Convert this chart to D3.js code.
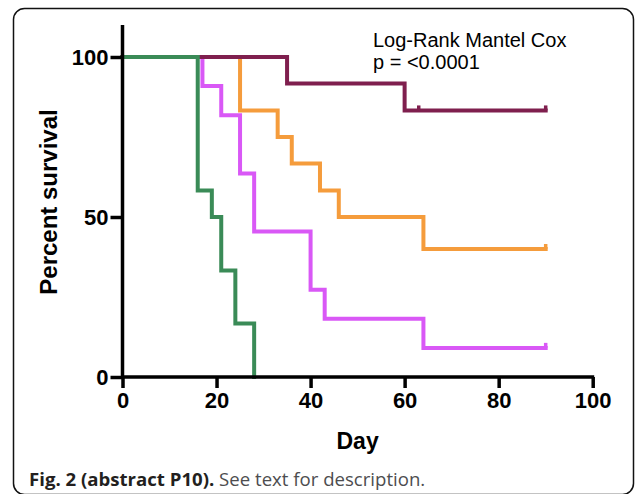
<!DOCTYPE html>
<html>
<head>
<meta charset="utf-8">
<script src="https://cdn.jsdelivr.net/npm/d3@7"></script>
<style>
  html, body { margin: 0; padding: 0; background: #fff; }
  svg { display: block; }
</style>
</head>
<body>
<svg id="chart" width="637" height="494"></svg>
<script>
// Kaplan-Meier survival steps (day, percent surviving) for each group
const greenDays     = [0, 16, 19, 21, 24, 28];
const greenSurv     = [100, 58.3, 50, 33.3, 16.7, 0];
const greenCensor   = [];

const magentaDays   = [0, 17, 21, 25, 28, 40, 43, 64, 90];
const magentaSurv   = [100, 90.9, 81.8, 63.6, 45.5, 27.3, 18.2, 9.1, 9.1];
const magentaCensor = [90];

const orangeDays    = [0, 25, 33, 36, 42, 46, 64, 90];
const orangeSurv    = [100, 83.3, 75, 66.7, 58.3, 50, 40, 40];
const orangeCensor  = [90];

const maroonDays    = [0, 35, 60, 90];
const maroonSurv    = [100, 91.7, 83.3, 83.3];
const maroonCensor  = [63, 90];

const xTicks = [0, 20, 40, 60, 80, 100];
const yTicks = [0, 50, 100];

const groups = [
  { days: magentaDays, surv: magentaSurv, censor: magentaCensor, color: "#d958f6" },
  { days: orangeDays,  surv: orangeSurv,  censor: orangeCensor,  color: "#f59c3c" },
  { days: maroonDays,  surv: maroonSurv,  censor: maroonCensor,  color: "#7f1f4e" },
  { days: greenDays,   surv: greenSurv,   censor: greenCensor,   color: "#3a8b57" }
];

const svg = d3.select("#chart");

// rounded panel frame
svg.append("rect")
  .attr("x", 13.5).attr("y", 8.5)
  .attr("width", 620).attr("height", 486)
  .attr("rx", 11).attr("ry", 11)
  .attr("fill", "#fff")
  .attr("stroke", "#111").attr("stroke-width", 1.5);

const x = d3.scaleLinear().domain([0, 100]).range([122.5, 592.7]);
const y = d3.scaleLinear().domain([0, 110]).range([377, 25]);

const chartFont = "'Liberation Sans', Arial, sans-serif";

// survival curves
const line = d3.line()
  .x(d => x(d[0]))
  .y(d => y(d[1]))
  .curve(d3.curveStepAfter);

groups.forEach(g => {
  const pts = g.days.map((d, i) => [d, g.surv[i]]);
  svg.append("path")
    .datum(pts)
    .attr("d", line)
    .attr("fill", "none")
    .attr("stroke", g.color)
    .attr("stroke-width", 4)
    .attr("stroke-linejoin", "miter")
    .attr("stroke-linecap", "square");

  // censor marks: short upward ticks
  g.censor.forEach(c => {
    const idx = d3.bisectRight(g.days, c) - 1;
    const s = g.surv[Math.max(0, idx)];
    svg.append("line")
      .attr("x1", x(c)).attr("x2", x(c))
      .attr("y1", y(s)).attr("y2", y(s) - 5)
      .attr("stroke", g.color)
      .attr("stroke-width", 3.5);
  });
});

// axes
const xAxis = d3.axisBottom(x).tickValues(xTicks).tickSize(11).tickPadding(4).tickSizeOuter(0);
const yAxis = d3.axisLeft(y).tickValues(yTicks).tickSize(12).tickPadding(2).tickSizeOuter(0);

const gx = svg.append("g").attr("transform", `translate(0,${y(0)})`).call(xAxis);
const gy = svg.append("g").attr("transform", `translate(${x(0)},0)`).call(yAxis);

[gx, gy].forEach(g => {
  g.select(".domain").attr("stroke", "#000").attr("stroke-width", 3.5);
  g.selectAll(".tick line").attr("stroke", "#000").attr("stroke-width", 3.5);
  g.selectAll(".tick text")
    .attr("fill", "#000")
    .style("font-family", chartFont)
    .style("font-weight", "bold")
    .style("font-size", "22px");
});
gy.select(".domain").attr("d", `M0,${y(110)}V${y(0) + 1.5}`);
gx.select(".domain").attr("d", `M${x(0) - 1.5},0H${x(100) + 1.5}`);
gx.selectAll(".tick text").attr("dy", "0.71em");
gy.selectAll(".tick text").attr("dy", "0.36em");

// axis titles
svg.append("text")
  .attr("x", x(50)).attr("y", 449)
  .attr("text-anchor", "middle")
  .style("font-family", chartFont).style("font-weight", "bold").style("font-size", "23px")
  .text("Day");

svg.append("text")
  .attr("transform", `translate(57,202) rotate(-90)`)
  .attr("text-anchor", "middle")
  .style("font-family", chartFont).style("font-weight", "bold").style("font-size", "24px")
  .text("Percent survival");

// statistical annotation
const ann = svg.append("text")
  .style("font-family", chartFont).style("font-size", "20px").attr("fill", "#000");
ann.append("tspan").attr("x", 373).attr("y", 47).text("Log-Rank Mantel Cox");
ann.append("tspan").attr("x", 373).attr("y", 69).text("p = <0.0001");

// figure caption
const cap = svg.append("text")
  .attr("x", 29).attr("y", 486)
  .style("font-family", "'Open Sans', 'Noto Sans', sans-serif").style("font-size", "18.6px");
cap.append("tspan").attr("fill", "#231f20").style("font-weight", "bold").text("Fig. 2 (abstract P10).");
cap.append("tspan").attr("fill", "#4d4d4f").text(" See text for description.");
</script>
</body>
</html>
